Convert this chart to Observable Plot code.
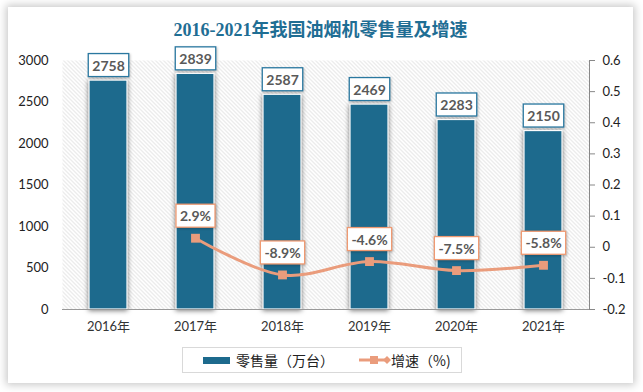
<!DOCTYPE html>
<html><head><meta charset="utf-8">
<script src="https://cdn.jsdelivr.net/npm/d3@7"></script>
<script src="https://cdn.jsdelivr.net/npm/@observablehq/plot@0.6"></script>
<style>
body{margin:0;background:#fff;width:643px;height:392px;overflow:hidden;position:relative;font-family:Lato,"Noto Sans CJK SC",sans-serif}
#card{position:absolute;left:8px;top:7px;width:625px;height:376px;background:#fff;box-shadow:0 0 8px 2px rgba(0,0,0,0.22)}
#title{position:absolute;left:0;width:625px;top:11px;text-align:center;font-weight:bold;font-size:18px;font-family:"Liberation Serif","Noto Sans CJK SC",serif;color:#1f6e94;line-height:24px}
#chart{position:absolute;left:0;top:38px}
#legend{position:absolute;left:174px;top:340px;width:278px;height:24px;border:1px solid #d9d9d9;display:flex;align-items:center;font-size:14px;color:#222;font-family:"Noto Sans CJK SC",sans-serif;box-sizing:content-box}
.sw{display:inline-block}
.bars,g[aria-label="bar"]{filter:drop-shadow(0px 1px 2.5px rgba(0,0,0,0.55))}
.lab-bar rect,.lab-line rect{filter:drop-shadow(1px 1px 1px rgba(0,0,0,0.22))}
</style></head>
<body>
<svg width="0" height="0" style="position:absolute"><defs>
<pattern id="hatch" patternUnits="userSpaceOnUse" width="4" height="4">
<path d="M-1,3 l2,2 M0,0 l4,4 M3,-1 l2,2" stroke="#cfcfcf" stroke-width="0.8"/>
</pattern></defs></svg>
<div id="card">
  <div id="title">2016-2021年我国油烟机零售量及增速</div>
  <div id="chart"></div>
  <div id="legend">
    <span class="sw" style="width:27px;height:7px;background:#1d6a8d;margin-left:20px;margin-right:6px"></span>
    <span>零售量（万台）</span>
    <svg class="sw" width="32" height="12" style="margin-left:25px">
      <line x1="0" y1="6" x2="29" y2="6" stroke="#ea9c7c" stroke-width="3"/>
      <rect x="11" y="2" width="8" height="8" fill="#ea9c7c"/>
      <path d="M28,2 L32,6 L28,10 L24,6 Z" fill="#ea9c7c"/>
    </svg>
    <span>增速（%)</span>
  </div>
</div>
<script>
const years = ["2016年","2017年","2018年","2019年","2020年","2021年"];
const sales = [2758, 2839, 2587, 2469, 2283, 2150];
const growthYears = ["2017年","2018年","2019年","2020年","2021年"];
const growth = [0.029, -0.089, -0.046, -0.075, -0.058];
const growthLabels = ["2.9%","-8.9%","-4.6%","-7.5%","-5.8%"];
const leftTicks = [0, 500, 1000, 1500, 2000, 2500, 3000];
const rightTicks = [-0.2, -0.1, 0, 0.1, 0.2, 0.3, 0.4, 0.5, 0.6];
const rightTickLabels = ["-0.2","-0.1","0","0.1","0.2","0.3","0.4","0.5","0.6"];

const leftMax = leftTicks[leftTicks.length - 1];
const rMin = rightTicks[0], rMax = rightTicks[rightTicks.length - 1];
const toLeft = v => (v - rMin) / (rMax - rMin) * leftMax;

const barRows = years.map((y, i) => ({year: y, value: sales[i]}));
const lineRows = growthYears.map((y, i) => ({year: y, g: growth[i], label: growthLabels[i]}));
const rightPos = rightTicks.map(toLeft);
const rightMap = new Map(rightPos.map((p, i) => [p, rightTickLabels[i]]));

const BLUE = "#1d6a8d", ORANGE = "#ea9c7c";

const chart = Plot.plot({
  width: 625, height: 295,
  marginLeft: 54, marginRight: 44, marginTop: 15, marginBottom: 31,
  style: {fontFamily: "Lato, 'Noto Sans CJK SC', sans-serif", fontSize: "13px", color: "#333", background: "transparent"},
  x: {domain: years, paddingInner: 0.56, paddingOuter: 0.28, label: null},
  y: {domain: [0, leftMax], label: null},
  marks: [
    Plot.frame({fill: "url(#hatch)", stroke: "none"}),
    Plot.axisY(leftTicks, {tickSize: 0, tickPadding: 14, fontSize: 13, fill: "#222", label: null, tickFormat: d => String(d)}),
    Plot.axisY(rightPos, {anchor: "right", tickSize: 5, tickPadding: 8, stroke: "#888", fill: "#222", fontSize: 13,
      tickFormat: d => rightMap.get(d) ?? "", label: null}),
    Plot.frame({anchor: "right", stroke: "#888"}),
    Plot.axisX({tickSize: 0, tickPadding: 12, fontSize: 13, fill: "#333", label: null, fontFamily: "Lato, 'Noto Sans CJK SC', sans-serif"}),
    Plot.barY(barRows, {x: "year", y: "value", fill: BLUE, stroke: "#fff", strokeWidth: 1.2, className: "bars"}),
    Plot.ruleY([0], {stroke: "#999"}),
    Plot.line(lineRows, {x: "year", y: d => toLeft(d.g), stroke: ORANGE, strokeWidth: 3, curve: "catmull-rom"}),
    Plot.dot(lineRows, {x: "year", y: d => toLeft(d.g), symbol: "square", r: 5, fill: ORANGE, stroke: "none"}),
    Plot.text(barRows, {x: "year", y: "value", text: d => String(d.value), dy: -14.5, className: "lab-bar",
      fontWeight: "bold", fontSize: 14, fill: "#595959"}),
    Plot.text(lineRows, {x: "year", y: d => toLeft(d.g), text: "label", dy: -21.5, className: "lab-line",
      fontWeight: "bold", fontSize: 14, fill: "#595959"})
  ]
});
document.getElementById("chart").appendChild(chart);

function boxes(cls, color) {
  chart.querySelectorAll("." + cls + " text").forEach(t => {
    const b = t.getBBox();
    const r = document.createElementNS("http://www.w3.org/2000/svg", "rect");
    const cy = b.y + b.height / 2;
    r.setAttribute("x", b.x - 4);
    r.setAttribute("width", b.width + 8);
    r.setAttribute("y", cy - 11.5);
    r.setAttribute("height", 23);
    r.setAttribute("fill", "#fff");
    r.setAttribute("stroke", color);
    r.setAttribute("stroke-width", 1.3);
    if (t.getAttribute("transform")) r.setAttribute("transform", t.getAttribute("transform"));
    t.parentNode.insertBefore(r, t);
  });
}
boxes("lab-bar", "#2a78a0");
boxes("lab-line", "#ef9a72");
</script>
</body></html>
